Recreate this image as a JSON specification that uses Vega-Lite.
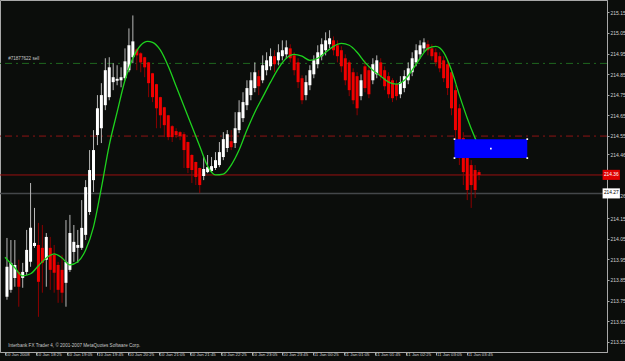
{
  "$schema": "https://vega.github.io/schema/vega-lite/v6.json",
  "width": 607,
  "height": 352,
  "autosize": {"type": "none"},
  "padding": {"left": 0, "top": 0, "right": 18, "bottom": 9},
  "background": "#0b0d0b",
  "config": {
    "view": {"stroke": "#a8a8a8", "strokeWidth": 1, "fill": "#0b0d0b"},
    "font": "Liberation Sans",
    "axis": {"labelOverlap": false, "labelFlush": false, "labelBound": false}
  },
  "datasets": {
    "candles": [
      {"i":0,"o":213.768,"h":214.054,"l":213.754,"c":213.914},
      {"i":1,"o":213.802,"h":214.044,"l":213.788,"c":213.933},
      {"i":2,"o":213.860,"h":214.044,"l":213.817,"c":213.923},
      {"i":3,"o":213.889,"h":213.948,"l":213.720,"c":213.817},
      {"i":4,"o":213.860,"h":213.933,"l":213.812,"c":213.889},
      {"i":5,"o":213.889,"h":214.093,"l":213.875,"c":213.996},
      {"i":6,"o":213.938,"h":214.321,"l":213.914,"c":214.103},
      {"i":7,"o":214.015,"h":214.200,"l":214.006,"c":214.030},
      {"i":8,"o":214.020,"h":214.127,"l":213.671,"c":213.841},
      {"i":9,"o":214.006,"h":214.117,"l":213.788,"c":213.933},
      {"i":10,"o":213.948,"h":214.078,"l":213.817,"c":214.059},
      {"i":11,"o":214.006,"h":214.059,"l":213.802,"c":213.899},
      {"i":12,"o":213.972,"h":214.020,"l":213.788,"c":213.885},
      {"i":13,"o":213.923,"h":213.938,"l":213.739,"c":213.802},
      {"i":14,"o":213.899,"h":213.972,"l":213.739,"c":213.788},
      {"i":15,"o":213.836,"h":214.141,"l":213.720,"c":213.938},
      {"i":16,"o":213.899,"h":214.166,"l":213.889,"c":214.078},
      {"i":17,"o":213.986,"h":214.117,"l":213.938,"c":214.035},
      {"i":18,"o":214.006,"h":214.093,"l":213.933,"c":214.020},
      {"i":19,"o":214.006,"h":214.238,"l":213.996,"c":214.103},
      {"i":20,"o":214.069,"h":214.335,"l":214.044,"c":214.301},
      {"i":21,"o":214.180,"h":214.481,"l":214.166,"c":214.384},
      {"i":22,"o":214.335,"h":214.578,"l":214.277,"c":214.481},
      {"i":23,"o":214.554,"h":214.748,"l":214.505,"c":214.684},
      {"i":24,"o":214.587,"h":214.806,"l":214.515,"c":214.748},
      {"i":25,"o":214.699,"h":214.927,"l":214.675,"c":214.869},
      {"i":26,"o":214.738,"h":214.932,"l":214.723,"c":214.883},
      {"i":27,"o":214.811,"h":214.903,"l":214.772,"c":214.835},
      {"i":28,"o":214.818,"h":214.893,"l":214.796,"c":214.827},
      {"i":29,"o":214.820,"h":214.883,"l":214.786,"c":214.835},
      {"i":30,"o":214.830,"h":214.975,"l":214.820,"c":214.912},
      {"i":31,"o":214.869,"h":215.072,"l":214.859,"c":214.990},
      {"i":32,"o":214.932,"h":215.135,"l":214.903,"c":215.009},
      {"i":33,"o":214.970,"h":214.975,"l":214.869,"c":214.941},
      {"i":34,"o":214.951,"h":214.956,"l":214.859,"c":214.907},
      {"i":35,"o":214.932,"h":214.934,"l":214.835,"c":214.883},
      {"i":36,"o":214.907,"h":214.909,"l":214.738,"c":214.806},
      {"i":37,"o":214.854,"h":214.856,"l":214.714,"c":214.738},
      {"i":38,"o":214.801,"h":214.803,"l":214.587,"c":214.684},
      {"i":39,"o":214.738,"h":214.740,"l":214.587,"c":214.650},
      {"i":40,"o":214.689,"h":214.691,"l":214.544,"c":214.602},
      {"i":41,"o":214.650,"h":214.652,"l":214.529,"c":214.544},
      {"i":42,"o":214.597,"h":214.602,"l":214.520,"c":214.544},
      {"i":43,"o":214.573,"h":214.587,"l":214.539,"c":214.554},
      {"i":44,"o":214.568,"h":214.573,"l":214.529,"c":214.549},
      {"i":45,"o":214.558,"h":214.568,"l":214.394,"c":214.481},
      {"i":46,"o":214.520,"h":214.522,"l":214.369,"c":214.394},
      {"i":47,"o":214.457,"h":214.461,"l":214.321,"c":214.384},
      {"i":48,"o":214.423,"h":214.425,"l":214.311,"c":214.350},
      {"i":49,"o":214.394,"h":214.396,"l":214.272,"c":214.311},
      {"i":50,"o":214.355,"h":214.447,"l":214.335,"c":214.389},
      {"i":51,"o":214.374,"h":214.457,"l":214.369,"c":214.398},
      {"i":52,"o":214.379,"h":214.447,"l":214.374,"c":214.403},
      {"i":53,"o":214.394,"h":214.471,"l":214.384,"c":214.432},
      {"i":54,"o":214.408,"h":214.520,"l":214.398,"c":214.471},
      {"i":55,"o":214.447,"h":214.568,"l":214.432,"c":214.534},
      {"i":56,"o":214.491,"h":214.578,"l":214.471,"c":214.558},
      {"i":57,"o":214.524,"h":214.578,"l":214.481,"c":214.495},
      {"i":58,"o":214.515,"h":214.665,"l":214.491,"c":214.587},
      {"i":59,"o":214.578,"h":214.723,"l":214.563,"c":214.665},
      {"i":60,"o":214.636,"h":214.762,"l":214.617,"c":214.714},
      {"i":61,"o":214.699,"h":214.820,"l":214.675,"c":214.782},
      {"i":62,"o":214.748,"h":214.859,"l":214.723,"c":214.820},
      {"i":63,"o":214.782,"h":214.907,"l":214.762,"c":214.859},
      {"i":64,"o":214.840,"h":214.869,"l":214.748,"c":214.791},
      {"i":65,"o":214.820,"h":214.941,"l":214.806,"c":214.893},
      {"i":66,"o":214.869,"h":214.956,"l":214.844,"c":214.917},
      {"i":67,"o":214.888,"h":214.975,"l":214.869,"c":214.937},
      {"i":68,"o":214.937,"h":214.966,"l":214.859,"c":214.898},
      {"i":69,"o":214.917,"h":214.995,"l":214.893,"c":214.956},
      {"i":70,"o":214.937,"h":215.014,"l":214.917,"c":214.966},
      {"i":71,"o":214.946,"h":215.014,"l":214.927,"c":214.980},
      {"i":72,"o":214.975,"h":214.995,"l":214.907,"c":214.927},
      {"i":73,"o":214.941,"h":214.956,"l":214.844,"c":214.869},
      {"i":74,"o":214.907,"h":214.927,"l":214.782,"c":214.811},
      {"i":75,"o":214.830,"h":214.844,"l":214.704,"c":214.723},
      {"i":76,"o":214.748,"h":214.844,"l":214.723,"c":214.811},
      {"i":77,"o":214.796,"h":214.893,"l":214.772,"c":214.869},
      {"i":78,"o":214.849,"h":214.941,"l":214.830,"c":214.917},
      {"i":79,"o":214.898,"h":214.990,"l":214.878,"c":214.956},
      {"i":80,"o":214.937,"h":215.024,"l":214.917,"c":214.995},
      {"i":81,"o":214.966,"h":215.053,"l":214.941,"c":215.014},
      {"i":82,"o":214.995,"h":215.063,"l":214.975,"c":215.024},
      {"i":83,"o":215.014,"h":215.033,"l":214.941,"c":214.966},
      {"i":84,"o":214.990,"h":215.014,"l":214.907,"c":214.937},
      {"i":85,"o":214.966,"h":214.985,"l":214.859,"c":214.888},
      {"i":86,"o":214.927,"h":214.946,"l":214.796,"c":214.820},
      {"i":87,"o":214.907,"h":214.917,"l":214.743,"c":214.772},
      {"i":88,"o":214.859,"h":214.878,"l":214.704,"c":214.723},
      {"i":89,"o":214.840,"h":214.859,"l":214.650,"c":214.684},
      {"i":90,"o":214.743,"h":214.849,"l":214.723,"c":214.820},
      {"i":91,"o":214.888,"h":214.917,"l":214.762,"c":214.782},
      {"i":92,"o":214.869,"h":214.888,"l":214.733,"c":214.752},
      {"i":93,"o":214.820,"h":214.927,"l":214.801,"c":214.898},
      {"i":94,"o":214.849,"h":214.941,"l":214.830,"c":214.917},
      {"i":95,"o":214.907,"h":214.927,"l":214.820,"c":214.840},
      {"i":96,"o":214.869,"h":214.888,"l":214.772,"c":214.791},
      {"i":97,"o":214.840,"h":214.859,"l":214.733,"c":214.752},
      {"i":98,"o":214.820,"h":214.830,"l":214.714,"c":214.733},
      {"i":99,"o":214.801,"h":214.820,"l":214.723,"c":214.743},
      {"i":100,"o":214.752,"h":214.840,"l":214.733,"c":214.811},
      {"i":101,"o":214.782,"h":214.869,"l":214.762,"c":214.840},
      {"i":102,"o":214.820,"h":214.907,"l":214.801,"c":214.878},
      {"i":103,"o":214.859,"h":214.956,"l":214.840,"c":214.927},
      {"i":104,"o":214.907,"h":214.995,"l":214.888,"c":214.966},
      {"i":105,"o":214.946,"h":215.014,"l":214.927,"c":214.990},
      {"i":106,"o":214.975,"h":215.024,"l":214.956,"c":215.004},
      {"i":107,"o":214.995,"h":215.014,"l":214.941,"c":214.966},
      {"i":108,"o":214.975,"h":214.995,"l":214.917,"c":214.937},
      {"i":109,"o":214.956,"h":214.975,"l":214.888,"c":214.907},
      {"i":110,"o":214.937,"h":214.956,"l":214.859,"c":214.878},
      {"i":111,"o":214.917,"h":214.937,"l":214.811,"c":214.830},
      {"i":112,"o":214.898,"h":214.917,"l":214.748,"c":214.782},
      {"i":113,"o":214.859,"h":214.878,"l":214.650,"c":214.684},
      {"i":114,"o":214.772,"h":214.796,"l":214.529,"c":214.578},
      {"i":115,"o":214.684,"h":214.704,"l":214.408,"c":214.442},
      {"i":116,"o":214.539,"h":214.568,"l":214.311,"c":214.374},
      {"i":117,"o":214.481,"h":214.505,"l":214.238,"c":214.287},
      {"i":118,"o":214.408,"h":214.432,"l":214.200,"c":214.311},
      {"i":119,"o":214.384,"h":214.408,"l":214.248,"c":214.287},
      {"i":120,"o":214.374,"h":214.384,"l":214.335,"c":214.360}
    ],
    "ma": [
      {"i":-0.5,"v":213.960},
      {"i":2,"v":213.909},
      {"i":4,"v":213.870},
      {"i":6,"v":213.880},
      {"i":8,"v":213.919},
      {"i":10,"v":213.957},
      {"i":12,"v":213.977},
      {"i":14,"v":213.957},
      {"i":16,"v":213.923},
      {"i":18,"v":213.938},
      {"i":20,"v":213.996},
      {"i":22,"v":214.108},
      {"i":24,"v":214.297},
      {"i":26,"v":214.505},
      {"i":28,"v":214.665},
      {"i":30,"v":214.820},
      {"i":32,"v":214.927},
      {"i":34,"v":214.990},
      {"i":35.75,"v":215.009},
      {"i":37,"v":215.004},
      {"i":39,"v":214.966},
      {"i":41,"v":214.888},
      {"i":43,"v":214.791},
      {"i":45,"v":214.694},
      {"i":47,"v":214.597},
      {"i":49,"v":214.500},
      {"i":51,"v":214.403},
      {"i":53,"v":214.360},
      {"i":55,"v":214.364},
      {"i":57,"v":214.408},
      {"i":59,"v":214.481},
      {"i":61,"v":214.578},
      {"i":63,"v":214.665},
      {"i":65,"v":214.738},
      {"i":67,"v":214.811},
      {"i":69,"v":214.878},
      {"i":71,"v":214.927},
      {"i":73,"v":214.946},
      {"i":75,"v":214.937},
      {"i":77,"v":214.917},
      {"i":79,"v":214.927},
      {"i":81,"v":214.956},
      {"i":83,"v":214.985},
      {"i":85,"v":214.999},
      {"i":87,"v":214.990},
      {"i":89,"v":214.956},
      {"i":91,"v":214.907},
      {"i":93,"v":214.869},
      {"i":95,"v":214.840},
      {"i":97,"v":214.811},
      {"i":99,"v":214.801},
      {"i":101,"v":214.820},
      {"i":103,"v":214.869},
      {"i":105,"v":214.927},
      {"i":107,"v":214.975},
      {"i":109,"v":214.985},
      {"i":111,"v":214.956},
      {"i":113,"v":214.869},
      {"i":115,"v":214.748},
      {"i":117,"v":214.636},
      {"i":119,"v":214.539},
      {"i":120,"v":214.495}
    ]
  },
  "layer": [
    {
      "data": {"values": [{"p": 214.902}]},
      "mark": {"type": "rule", "color": "#1f661f", "strokeWidth": 1, "strokeDash": [7, 4, 2, 4]},
      "encoding": {
        "y": {"field": "p", "type": "quantitative",
          "scale": {"domain": [213.5, 215.21], "nice": false, "zero": false},
          "axis": {"orient": "right", "values": [215.15, 215.05, 214.95, 214.85, 214.75, 214.65, 214.55, 214.46, 214.26, 214.15, 214.05, 213.95, 213.85, 213.75, 213.65, 213.55],
            "tickCount": 40,
            "format": ".2f", "title": null, "grid": false, "domain": true, "domainColor": "#a8a8a8",
            "tickColor": "#a8a8a8", "tickSize": 2, "labelPadding": 1, "labelFontSize": 5,
            "labelColor": "#d0d0d0", "labelFont": "Liberation Sans", "labelOverlap": false, "labelFlush": false}
        }
      }
    },
    {
      "data": {"values": [{"p": 214.549}]},
      "mark": {"type": "rule", "color": "#8e1414", "strokeWidth": 1, "strokeDash": [7, 4, 2, 4]},
      "encoding": {"y": {"field": "p", "type": "quantitative"}}
    },
    {
      "data": {"values": [{"p": 214.36}]},
      "mark": {"type": "rule", "color": "#9a1010", "strokeWidth": 1},
      "encoding": {"y": {"field": "p", "type": "quantitative"}}
    },
    {
      "data": {"values": [{"p": 214.27}]},
      "mark": {"type": "rule", "color": "#44474a", "strokeWidth": 1.5},
      "encoding": {"y": {"field": "p", "type": "quantitative"}}
    },
    {
      "data": {"values": [{"t": "#71877622 sell", "x": 0.3, "p": 214.912}]},
      "mark": {"type": "text", "align": "left", "baseline": "bottom", "color": "#c8c8c8", "fontSize": 4.6, "font": "Liberation Sans"},
      "encoding": {"x": {"field": "x", "type": "quantitative"}, "y": {"field": "p", "type": "quantitative"}, "text": {"field": "t"}}
    },
    {
      "data": {"values": [{"t": "Interbank FX Trader 4, © 2001-2007 MetaQuotes Software Corp.", "x": 0.3, "p": 213.529}]},
      "mark": {"type": "text", "align": "left", "baseline": "middle", "color": "#c8c8c8", "fontSize": 4.6, "font": "Liberation Sans"},
      "encoding": {"x": {"field": "x", "type": "quantitative"}, "y": {"field": "p", "type": "quantitative"}, "text": {"field": "t"}}
    },
    {
      "data": {"name": "candles"},
      "mark": {"type": "rule", "strokeWidth": 1},
      "encoding": {
        "x": {"field": "i", "type": "quantitative",
          "scale": {"domain": [-0.5, 151.25], "nice": false, "zero": false},
          "axis": {"orient": "bottom", "title": null, "grid": false,
            "values": [-0.5, 7.3333, 15.1667, 23, 30.8333, 38.6667, 46.5, 54.3333, 62.1667, 70, 77.8333, 85.6667, 93.5, 101.3333, 109.1667, 117],
            "tickCount": 40,
            "labelExpr": "['10 Jan 2008','10 Jan 18:25','10 Jan 19:05','10 Jan 19:45','10 Jan 20:25','10 Jan 21:05','10 Jan 21:45','10 Jan 22:25','10 Jan 23:05','10 Jan 23:45','11 Jan 00:25','11 Jan 01:05','11 Jan 01:45','11 Jan 02:25','11 Jan 03:05','11 Jan 03:45'][round((datum.value + 0.5) / 7.8333)]",
            "labelAlign": "left", "labelBaseline": "top", "labelDx": 2, "labelPadding": -3, "tickSize": 3,
            "tickColor": "#a8a8a8", "domainColor": "#a8a8a8", "labelFontSize": 4.4, "labelColor": "#d0d0d0",
            "labelFont": "Liberation Sans", "labelOverlap": false, "labelFlush": false}
        },
        "y": {"field": "l", "type": "quantitative"},
        "y2": {"field": "h"},
        "color": {"condition": {"test": "datum.c >= datum.o", "value": "#b8b8b8"}, "value": "#8c0000"}
      }
    },
    {
      "data": {"name": "candles"},
      "mark": {"type": "bar", "width": 3},
      "encoding": {
        "x": {"field": "i", "type": "quantitative"},
        "y": {"field": "o", "type": "quantitative"},
        "y2": {"field": "c"},
        "color": {"condition": {"test": "datum.c >= datum.o", "value": "#ffffff"}, "value": "#f00000"}
      }
    },
    {
      "data": {"name": "ma"},
      "mark": {"type": "line", "color": "#1ed21e", "strokeWidth": 1.3, "interpolate": "monotone"},
      "encoding": {
        "x": {"field": "i", "type": "quantitative"},
        "y": {"field": "v", "type": "quantitative"}
      }
    },
    {
      "data": {"values": [{"x1": 113.75, "x2": 132.25, "p1": 214.534, "p2": 214.442}]},
      "mark": {"type": "rect", "color": "#0000ff"},
      "encoding": {
        "x": {"field": "x1", "type": "quantitative"}, "x2": {"field": "x2"},
        "y": {"field": "p1", "type": "quantitative"}, "y2": {"field": "p2"}
      }
    },
    {
      "data": {"values": [
        {"x": 113.75, "p": 214.534}, {"x": 132.25, "p": 214.534},
        {"x": 113.75, "p": 214.442}, {"x": 132.25, "p": 214.442},
        {"x": 123, "p": 214.488}
      ]},
      "mark": {"type": "square", "color": "#ffffff", "size": 3, "opacity": 1},
      "encoding": {"x": {"field": "x", "type": "quantitative"}, "y": {"field": "p", "type": "quantitative"}}
    },
    {
      "data": {"values": [
        {"x1": 151.4, "x2": 155.8, "p1": 214.385, "p2": 214.336, "bg": "bid"},
        {"x1": 151.4, "x2": 155.8, "p1": 214.295, "p2": 214.246, "bg": "ask"}
      ]},
      "mark": {"type": "rect"},
      "encoding": {
        "x": {"field": "x1", "type": "quantitative"}, "x2": {"field": "x2"},
        "y": {"field": "p1", "type": "quantitative"}, "y2": {"field": "p2"},
        "color": {"field": "bg", "type": "nominal", "scale": {"domain": ["bid", "ask"], "range": ["#e00000", "#ffffff"]}, "legend": null}
      }
    },
    {
      "data": {"values": [
        {"x": 153.6, "p": 214.36, "t": "214.36", "bg": "bid"},
        {"x": 153.6, "p": 214.27, "t": "214.27", "bg": "ask"}
      ]},
      "mark": {"type": "text", "align": "center", "baseline": "middle", "fontSize": 4.8, "font": "Liberation Sans"},
      "encoding": {
        "x": {"field": "x", "type": "quantitative"},
        "y": {"field": "p", "type": "quantitative"},
        "text": {"field": "t"},
        "color": {"condition": {"test": "datum.bg == 'bid'", "value": "#ffffff"}, "value": "#000000"}
      }
    }
  ]
}
